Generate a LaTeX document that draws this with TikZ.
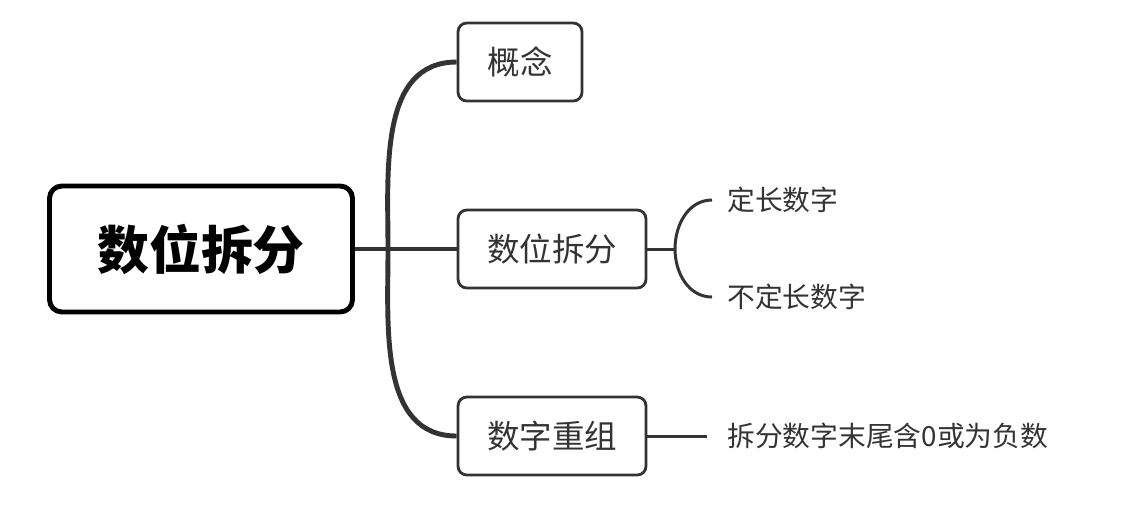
\documentclass[tikz,border=0pt]{standalone}
\usepackage{fontspec}
\setmainfont{Noto Sans CJK SC}
\usetikzlibrary{positioning}
\definecolor{ink}{HTML}{333333}
\tikzset{
  topic/.style={draw=ink, line width=1.6pt, rounded corners=5pt, minimum height=1.56cm, font=\fontsize{18.5}{20}\selectfont, text=ink},
  root/.style={draw=black, line width=2.8pt, rounded corners=7pt, minimum width=6.06cm, minimum height=2.52cm, font=\fontsize{29.5}{32}\selectfont\bfseries},
  leaf/.style={anchor=west, font=\fontsize{15.8}{18}\selectfont, text=ink, inner sep=0pt},
  link/.style={draw=ink, line width=2.2pt}
}
\begin{document}
\begin{tikzpicture}[x=0.02cm, y=-0.02cm]
        \useasboundingbox (0,0) rectangle (1124,512);
        \node[root] (main) at (201,249) {数位拆分};
        \node[topic, minimum width=2.48cm] (concept) at (520,62) {概念};
        \node[topic, minimum width=3.76cm] (split) at (552,249) {数位拆分};
        \node[topic, minimum width=3.76cm] (regroup) at (552,436) {数字重组};
        \node[leaf] (fixed) at (727,200) {定长数字};
        \node[leaf] (varlen) at (727,297) {不定长数字};
        \node[leaf] (zero) at (727,436) {拆分数字末尾含0或为负数};
        \coordinate (spine) at (388,249);
        \coordinate (fork) at (675,249);

        \draw[link, line width=2.6pt] (main) -- (split);
        \draw[link, line width=2.8pt] (spine) to[out=90, in=180] (concept.west);
        \draw[link, line width=2.8pt] (spine) to[out=-90, in=180] (regroup.west);
        \draw[link, line width=1.7pt] (split) -- (fork);
        \draw[link, line width=1.7pt] (fork) to[out=90, in=180] ([xshift=-0.3cm]fixed.west);
        \draw[link, line width=1.7pt] (fork) to[out=-90, in=180] ([xshift=-0.3cm]varlen.west);
        \draw[link, line width=1.7pt] (regroup) -- ([xshift=-0.4cm]zero.west);
\end{tikzpicture}
\end{document}
